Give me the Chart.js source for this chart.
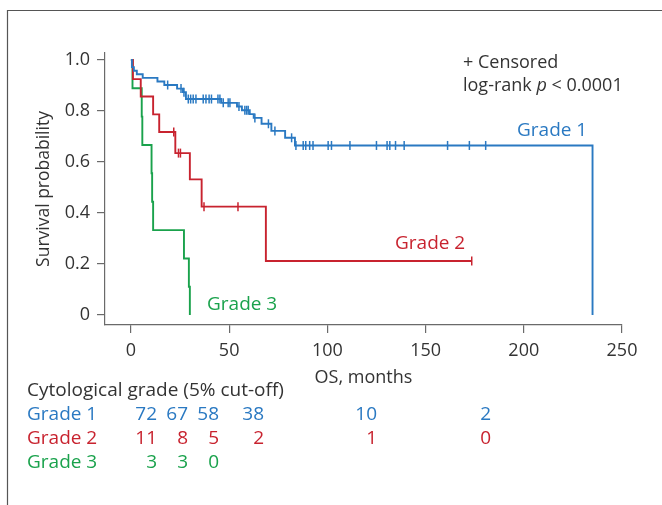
<!DOCTYPE html>
<html><head><meta charset="utf-8">
<script src="https://cdn.jsdelivr.net/npm/chart.js@4/dist/chart.umd.min.js"></script>
<style>html,body{margin:0;padding:0;background:#fff;}#wrap{width:662px;height:505px;position:relative;}</style>
</head><body><div id="wrap"><canvas id="c" width="662" height="505"></canvas></div>
<script>
// ---- data ----
const g1Times = [0, 0.5, 1.5, 3, 6, 13.5, 17, 23.5, 26.5, 28, 46, 54, 56.5, 60.5, 62.5, 66.5, 71.5, 78.5, 83.5, 235];
const g1Surv  = [1, 0.972, 0.958, 0.944, 0.93, 0.916, 0.902, 0.888, 0.874, 0.847, 0.832, 0.818, 0.803, 0.788, 0.773, 0.750, 0.722, 0.695, 0.665, 0];
const g1Cens  = [18.7, 25.5, 27, 29.2, 30.4, 31.7, 33.1, 36.8, 38.2, 39.8, 41, 44.3, 45.3, 47, 49.5, 50.4, 55, 58, 58.9, 59.7, 63.1, 70, 73.3, 81.8, 84, 87.7, 89, 91, 92.7, 100.4, 102.1, 111.5, 125, 130.4, 131.8, 134.7, 139.1, 161.2, 172.3, 180.6];

const g2Times = [0, 1, 5, 11.3, 14.4, 22.6, 30, 36, 68.7, 173.5];
const g2Surv  = [1, 0.925, 0.857, 0.787, 0.718, 0.635, 0.532, 0.425, 0.212, 0.212];
const g2Cens  = [21.8, 24.2, 25.2, 37.2, 54.5, 173.5];

const g3Times = [0, 0.8, 5.5, 5.8, 10.5, 10.8, 11.3, 27, 29.5, 30];
const g3Surv  = [1, 0.889, 0.778, 0.667, 0.556, 0.444, 0.333, 0.222, 0.111, 0];

const xTicks = [0, 50, 100, 150, 200, 250];
const yTicks = [0, 0.2, 0.4, 0.6, 0.8, 1.0];

const riskHeader = 'Cytological grade (5% cut-off)';
const groupNames = ['Grade 1', 'Grade 2', 'Grade 3'];
const riskG1 = [72, 67, 58, 38, 10, 2];
const riskG2 = [11, 8, 5, 2, 1, 0];
const riskG3 = [3, 3, 0];

// ---- styles / layout ----
const C1 = '#2a79c2', C2 = '#c8232f', C3 = '#1aa24c', TXT = '#333333', AX = '#6a6a6a';
const FONT = "'Open Sans', 'Noto Sans', sans-serif";
const riskColsRight = [157, 188, 219, 264, 377, 491];

function toPts(ts, ss) { return ts.map((t, i) => ({x: t, y: ss[i]})); }
function survAt(ts, ss, t) { let v = ss[0]; for (let i = 0; i < ts.length; i++) { if (ts[i] <= t) v = ss[i]; } return v; }
function censPts(ts, ss, cs) { return cs.map(t => ({x: t, y: survAt(ts, ss, t)})); }

const lineDs = (pts, col) => ({type: 'line', data: pts, borderColor: col, borderWidth: 1.9, stepped: 'before', pointRadius: 0, fill: false, order: 2});
const censDs = (pts, col) => ({type: 'scatter', data: pts, borderColor: col, backgroundColor: col, pointStyle: 'line', rotation: 90, pointRadius: 4.5, borderWidth: 1.5, showLine: false, order: 1});

const textPlugin = {
  id: 'texts',
  beforeDraw(chart) {
    const ctx = chart.ctx;
    ctx.save();
    ctx.strokeStyle = '#555';
    ctx.lineWidth = 1.2;
    ctx.beginPath();
    ctx.moveTo(7.5, 505); ctx.lineTo(7.5, 10.5); ctx.lineTo(662, 10.5);
    ctx.stroke();
    ctx.restore();
  },
  afterDraw(chart) {
    const ctx = chart.ctx;
    ctx.save();
    ctx.textBaseline = 'middle';
    ctx.textAlign = 'left';
    ctx.font = '18px ' + FONT;
    ctx.fillStyle = TXT;
    ctx.fillText('+ Censored', 463, 63);
    let x = 463;
    const parts = [['log-rank ', false], ['p', true], [' < 0.0001', false]];
    for (const [s, it] of parts) {
      ctx.font = (it ? 'italic ' : '') + '18px ' + FONT;
      ctx.fillText(s, x, 86);
      x += ctx.measureText(s).width;
    }
    ctx.font = '19px ' + FONT;
    ctx.fillStyle = C1; ctx.fillText(groupNames[0], 517, 131);
    ctx.fillStyle = C2; ctx.fillText(groupNames[1], 395, 244);
    ctx.fillStyle = C3; ctx.fillText(groupNames[2], 207, 305);

    // risk table
    ctx.font = '19px ' + FONT;
    ctx.fillStyle = TXT;
    ctx.fillText(riskHeader, 27, 391);
    const rows = [riskG1, riskG2, riskG3];
    const cols = [C1, C2, C3];
    rows.forEach((r, i) => {
      const y = 415 + 24 * i;
      ctx.fillStyle = cols[i];
      ctx.textAlign = 'left';
      ctx.fillText(groupNames[i], 27, y);
      ctx.textAlign = 'right';
      r.forEach((v, j) => ctx.fillText(String(v), riskColsRight[j], y));
    });
    ctx.restore();
  }
};

new Chart(document.getElementById('c'), {
  data: {
    datasets: [
      lineDs(toPts(g1Times, g1Surv), C1),
      lineDs(toPts(g2Times, g2Surv), C2),
      lineDs(toPts(g3Times, g3Surv), C3),
      censDs(censPts(g1Times, g1Surv, g1Cens), C1),
      censDs(censPts(g2Times, g2Surv, g2Cens), C2)
    ]
  },
  options: {
    responsive: false,
    animation: false,
    events: [],
    layout: {padding: {left: 34, top: 53, right: 40, bottom: 116}},
    plugins: {legend: {display: false}, tooltip: {enabled: false}},
    scales: {
      x: {
        type: 'linear', min: -13.2, max: 250,
        afterBuildTicks: s => { s.ticks = xTicks.map(v => ({value: v})); },
        afterFit: s => { s.height = 64; },
        grid: {drawOnChartArea: false, drawTicks: true, tickLength: 8, color: AX, lineWidth: 1.2},
        border: {display: true, color: AX, width: 1.2},
        ticks: {color: TXT, font: {family: FONT, size: 18}, padding: 7, maxRotation: 0, autoSkip: false},
        title: {display: true, text: 'OS, months', color: TXT, font: {family: FONT, size: 18}, padding: 0}
      },
      y: {
        type: 'linear', min: -0.039, max: 1.0275,
        afterBuildTicks: s => { s.ticks = yTicks.map(v => ({value: v})); },
        afterFit: s => { s.width = 71; },
        grid: {drawOnChartArea: false, drawTicks: true, tickLength: 8, color: AX, lineWidth: 1.2},
        border: {display: true, color: AX, width: 1.2},
        ticks: {color: TXT, font: {family: FONT, size: 18}, padding: 7, autoSkip: false,
          callback: v => v === 0 ? '0' : v.toFixed(1)},
        title: {display: true, text: 'Survival probability', color: TXT, font: {family: FONT, size: 17.5}, padding: 0}
      }
    }
  },
  plugins: [textPlugin]
});
</script></body></html>
